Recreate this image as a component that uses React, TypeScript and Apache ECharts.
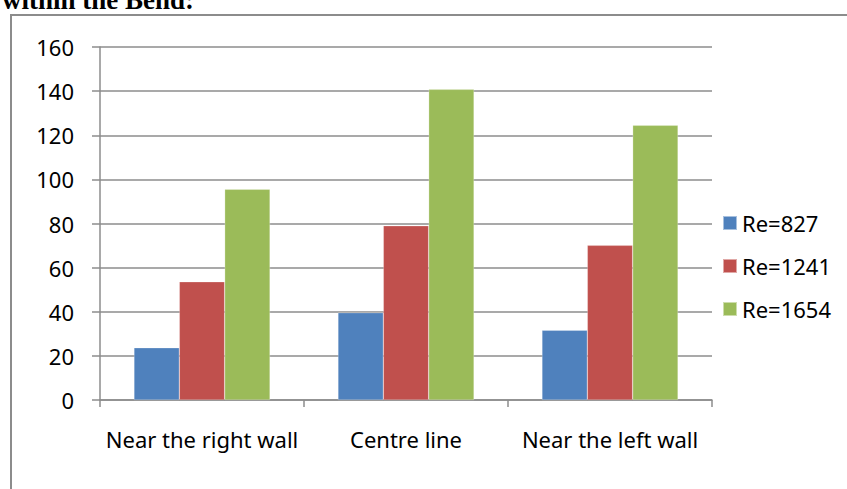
import React, { useEffect, useRef } from "react";
import * as echarts from "echarts";

const categories = ["Near the right wall", "Centre line", "Near the left wall"];
const seriesNames = ["Re=827", "Re=1241", "Re=1654"];
const re827 = [23.7, 39.6, 31.6];
const re1241 = [53.6, 79.0, 70.1];
const re1654 = [95.5, 140.8, 124.5];
const colors = ["#4f81bd", "#c0504d", "#9bbb59"];
const titleText = "within the Bend:";

export default function App() {
  const ref = useRef<HTMLDivElement>(null);
  useEffect(() => {
    if (!ref.current) return;
    const chart = echarts.init(ref.current, null, { renderer: "svg" });
    const font = "'Noto Sans', 'Open Sans', sans-serif";
    const values = [re827, re1241, re1654];
    chart.setOption({
      animation: false,
      backgroundColor: "#ffffff",
      graphic: [
        {
          type: "rect",
          shape: { x: 11, y: 15, width: 900, height: 600 },
          style: { fill: "none", stroke: "#8c8c8c", lineWidth: 2 },
          silent: true,
        },
        {
          type: "text",
          x: 2,
          y: 0,
          style: {
            text: titleText,
            font: "bold 27px 'Liberation Serif', 'Times New Roman', serif",
            fill: "#000000",
            verticalAlign: "middle",
            align: "left",
          },
          silent: true,
        },
      ],
      grid: { left: 100, right: 135, top: 47, bottom: 89, containLabel: false },
      legend: {
        orient: "vertical",
        left: 717,
        top: 207,
        itemWidth: 14,
        itemHeight: 14,
        itemGap: 21,
        icon: "rect",
        data: seriesNames,
        textStyle: { fontFamily: font, fontSize: 22, color: "#000", lineHeight: 22 },
      },
      xAxis: {
        type: "category",
        data: categories,
        axisLine: { lineStyle: { color: "#8c8c8c", width: 1.5 } },
        axisTick: { show: true, length: 7, lineStyle: { color: "#8c8c8c", width: 1.5 } },
        axisLabel: { fontFamily: font, fontSize: 22, color: "#000", margin: 28, interval: 0 },
        splitLine: { show: false },
      },
      yAxis: {
        type: "value",
        min: 0,
        max: 160,
        interval: 20,
        axisLine: { show: true, lineStyle: { color: "#8c8c8c", width: 1.5 } },
        axisTick: { show: true, length: 8, lineStyle: { color: "#8c8c8c", width: 1.5 } },
        axisLabel: { fontFamily: font, fontSize: 22, color: "#000", margin: 26 },
        splitLine: { show: true, lineStyle: { color: "#8c8c8c", width: 1.5 } },
      },
      series: seriesNames.map((name, i) => ({
        name,
        type: "bar",
        data: values[i],
        barGap: "0%",
        barCategoryGap: "33.3%",
        itemStyle: { color: colors[i], borderColor: "rgba(255,255,255,0.5)", borderWidth: 0.5 },
      })),
    });
    return () => chart.dispose();
  }, []);
  return (
    <div
      ref={ref}
      style={{ position: "absolute", left: 0, top: 0, width: 847, height: 489 }}
    />
  );
}
